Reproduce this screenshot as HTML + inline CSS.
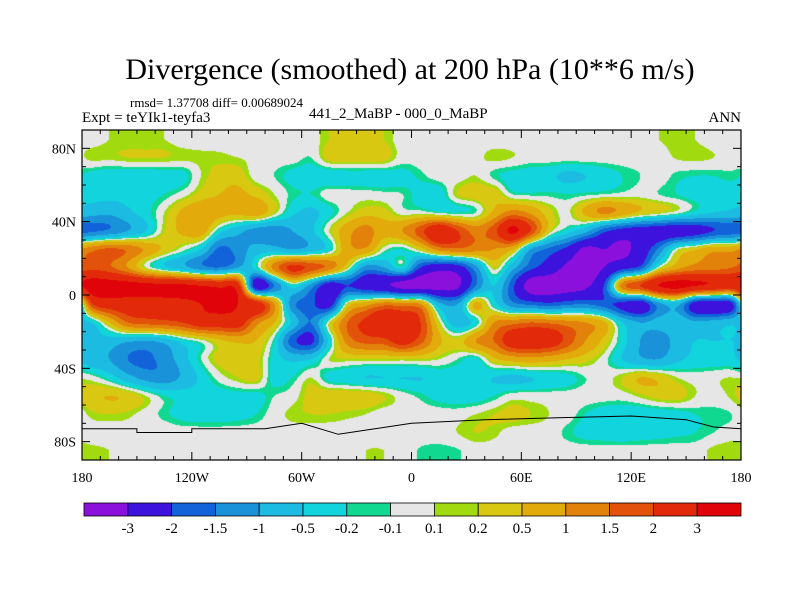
<!DOCTYPE html>
<html><head><meta charset="utf-8">
<style>
body{margin:0;background:#fff;}
#wrap{position:relative;width:800px;height:600px;overflow:hidden;font-family:"Liberation Serif",serif;color:#000;}
.t{position:absolute;white-space:nowrap;}
</style></head>
<body>
<div id="wrap">
<div class="t" style="left:0;width:820px;text-align:center;top:53px;font-size:30px;">Divergence (smoothed) at 200 hPa (10**6 m/s)</div>
<div class="t" style="left:130px;top:95px;font-size:13px;">rmsd= 1.37708 diff= 0.00689024</div>
<div class="t" style="left:82px;top:110px;font-size:15px;">Expt = teYIk1-teyfa3</div>
<div class="t" style="left:309px;top:106px;font-size:15px;">441_2_MaBP - 000_0_MaBP</div>
<div class="t" style="left:700px;top:110px;width:41px;text-align:right;font-size:15px;">ANN</div>
<canvas id="map" width="659" height="330" style="position:absolute;left:82px;top:130px;"></canvas>
<svg id="ov" width="800" height="600" style="position:absolute;left:0;top:0;"></svg>
</div>
<script>
const lons=[-175,-165,-155,-145,-135,-125,-115,-105,-95,-85,-75,-65,-55,-45,-35,-25,-15,-5,5,15,25,35,45,55,65,75,85,95,105,115,125,135,145,155,165,175];
const lats=[85,75,65,55,45,35,25,15,5,-5,-15,-25,-35,-45,-55,-65,-75,-85];
const row85=[0,0.1,0.1,0.1,0.1,0,0,0,0,0,0,0,0,0.2,0.3,0.3,0.2,0,0,0,0,0,0,0,0,0,0,0,0,0,0,0.1,0.15,0.1,0,0];
const row75=[0.15,0.15,0.2,0.2,0.2,0.15,0.15,0.15,0.1,0.05,0,0,-0.1,0.3,0.35,0.35,0.3,0,0,0,0,0.05,0.15,0.1,0,0,0,0,0,0,0,0,0.12,0.15,0.1,0];
const row65=[-0.3,-0.4,-0.4,-0.4,-0.35,-0.3,0.1,0.3,0.35,0,-0.1,-0.3,-0.4,-0.4,-0.35,-0.35,-0.35,-0.3,-0.15,0,0,0.1,-0.15,-0.3,-0.35,-0.4,-0.6,-0.5,-0.35,-0.2,-0.1,0,-0.15,-0.2,-0.2,-0.15];
const row55=[-0.3,-0.35,-0.35,-0.3,-0.2,0,0.3,0.5,0.6,0.4,0.1,-0.15,-0.2,0,0,0,-0.05,-0.1,-0.3,-0.35,0.2,0.35,0.4,-0.1,-0.15,-0.15,-0.2,-0.15,-0.1,-0.05,0,-0.1,-0.2,-0.3,-0.35,-0.35];
const row45=[-0.8,-0.9,-0.6,-0.3,0.1,0.6,0.9,0.7,0.6,0.8,0.2,-0.4,-0.6,-0.3,0.1,0.35,0.3,0,0,-0.15,-0.2,-0.1,0.6,1.2,0.9,0.3,0.05,0.6,1.1,0.8,0.4,0.2,0,-0.3,-0.5,-0.6];
const row35=[-1.6,-1.4,-1.0,-0.5,0.2,0.6,0.8,-0.3,-0.8,-1.2,-1.3,-1.0,-0.6,0.1,0.8,1.2,0.7,1.0,1.8,2.8,2.0,1.3,1.8,3.2,2.0,0.3,-0.3,-0.8,-1.8,-2.3,-2.5,-2.5,-2.6,-2.4,-2.0,-1.8];
const row25=[1.3,1.6,1.4,0.9,0.4,0,-0.5,-1.6,-1.3,-0.8,-0.8,-1.0,-0.8,-0.3,0.8,0.9,0,-0.2,0.3,1.2,1.4,1.2,1.0,0.6,-1.0,-1.6,-2.2,-3.2,-3.0,-3.2,-2.6,-1.4,0,0.4,0.8,0.8];
const row15=[1.8,1.6,1.0,0.1,-0.4,-0.8,-1.3,-1.5,-1.0,-0.3,1.2,2.2,1.8,1.3,0.2,-1.2,-1.0,-0.3,-2.0,-2.6,-2.4,-1.2,0.2,-0.8,-1.8,-2.4,-3.2,-3.4,-3.0,-2.3,-1.8,0,0.8,1.2,1.3,1.5];
const row5=[3.5,3.5,3.4,3.3,3.2,3.2,3.0,2.8,2.5,-2.5,-1.5,-0.3,-1.2,-2.5,-2.0,-2.5,-2.8,-3.3,-3.4,-3.4,-3.2,-1.5,-0.5,-1.8,-3.5,-3.6,-3.5,-3.2,-2.0,1.2,2.0,3.0,3.3,3.0,2.8,2.5];
const rowS5=[1.8,2.5,2.5,2.5,2.6,2.7,3.0,3.2,3.0,2.6,1.0,-1.3,-1.8,-2.4,0.2,0.8,1.3,1.2,1.0,-0.8,-1.0,0.6,-0.3,-1.3,-1.6,-1.8,-1.6,-1.5,-1.8,-2.2,-2.6,-1.2,-0.8,-2.4,-2.6,-2.2];
const rowS15=[-0.5,0.5,1.5,1.7,1.8,2.0,2.5,2.5,2.5,1.2,0.5,-0.6,-1.5,0.1,1.5,2.2,2.8,2.6,2.0,0.2,-0.8,-0.3,1.0,1.3,1.5,1.4,1.2,1.0,0.6,-0.5,-1.0,-0.8,-0.6,-0.9,-0.8,-0.6];
const rowS25=[-0.6,-0.7,-0.9,-1.0,-0.8,-0.3,0,0.4,0.6,0.5,-0.2,-1.8,-2.2,-0.4,1.2,1.7,1.8,2.4,1.7,0.6,0.3,1.0,1.5,2.5,2.6,2.5,1.8,1.0,0.4,-0.3,-1.0,-1.3,-0.8,-0.5,-0.5,-0.5];
const rowS35=[-0.8,-1.0,-1.5,-1.6,-1.3,-0.7,-0.1,0.3,0.3,0.3,-0.3,-0.6,-0.5,0.1,0.2,0.2,0.2,0.2,0.2,0.1,-0.1,-0.3,0.4,0.7,0.8,0.7,0.5,0.3,0,-0.5,-0.9,-1.0,-0.6,-0.4,-0.4,-0.4];
const rowS45=[0,-0.3,-0.8,-1.2,-1.3,-0.9,-0.4,0,0.2,0.3,-0.3,-0.2,0.1,-0.3,-0.4,-0.5,-0.5,-0.5,-0.5,-0.4,-0.4,-0.4,-0.5,-0.6,-0.5,-0.4,-0.3,-0.1,0,0.2,0.5,0.4,0.1,0,0.05,0.1];
const rowS55=[0.4,0.5,0.4,0.1,-0.2,-0.3,-0.35,-0.35,-0.3,-0.3,-0.1,0,0.3,0.4,0.4,0.35,0.2,0,-0.15,-0.3,-0.35,-0.35,-0.2,0,0,0,0,0,0,0,0.15,0.3,0.3,0.1,0,0.15];
const rowS65=[0.15,0.2,0.15,0,-0.15,-0.3,-0.35,-0.35,-0.3,-0.2,0,0.15,0.2,0.2,0.15,0.1,0,0,0,0,0,0.1,0.2,0.3,0.2,0.1,0,-0.2,-0.35,-0.4,-0.4,-0.35,-0.3,-0.2,-0.15,-0.1];
const rowS75=[0,0,0,-0.1,0,0,0,0,0,0,0,0,0,0,0,0,0,0,0,0,0.1,0.2,0.15,0,0,0,-0.15,-0.3,-0.35,-0.4,-0.35,-0.3,-0.25,-0.2,-0.1,0];
const rowS85=[0.15,0.1,0,0,0,0,0,0,0,0,0,0,0,0,0,0.1,0.1,0,-0.12,-0.15,-0.12,0,0,0,0,0,0,0,0,0,0,0,0,0,0.15,0.2];
const grid=[row85,row75,row65,row55,row45,row35,row25,row15,row5,rowS5,rowS15,rowS25,rowS35,rowS45,rowS55,rowS65,rowS75,rowS85];
const levels=[-3,-2,-1.5,-1,-0.5,-0.2,-0.1,0.1,0.2,0.5,1,1.5,2,3];
const levelLabels=["-3","-2","-1.5","-1","-0.5","-0.2","-0.1","0.1","0.2","0.5","1","1.5","2","3"];
const colors=["#8c10dc","#3c12dc","#1262da","#1a92da","#1cbce2","#12d4dc","#10d890","#e6e6e6","#a2da10","#d8c812","#e2aa0a","#e2820a","#e2520a","#e22a0a","#e0040a"];
const lonTicks=[-180,-120,-60,0,60,120,180];
const lonLabels=["180","120W","60W","0","60E","120E","180"];
const latTicks=[80,40,0,-40,-80];
const latLabels=["80N","40N","0","40S","80S"];

const L=82,T=130,W=659,H=330;
function xOf(lon){return L+(lon+180)/360*W;}
function yOf(lat){return T+(90-lat)/180*H;}
function colorIdx(v){let i=0;while(i<levels.length&&v>=levels[i])i++;return i;}
function cr(p0,p1,p2,p3,t){return 0.5*((2*p1)+(-p0+p2)*t+(2*p0-5*p1+4*p2-p3)*t*t+(-p0+3*p1-3*p2+p3)*t*t*t);}
function g(j,i){const n=lons.length;j=Math.max(0,Math.min(lats.length-1,j));i=((i%n)+n)%n;return grid[j][i];}
function sample(lon,lat){
  const fi=(lon-lons[0])/10, fj=Math.max(0,Math.min(lats.length-1,(lats[0]-lat)/10));
  const i0=Math.floor(fi), ti=fi-i0, j0=Math.floor(fj), tj=fj-j0;
  const r=[];
  for(let dj=-1;dj<=2;dj++){r.push(cr(g(j0+dj,i0-1),g(j0+dj,i0),g(j0+dj,i0+1),g(j0+dj,i0+2),ti));}
  return cr(r[0],r[1],r[2],r[3],tj);
}
const cv=document.getElementById('map');const ctx=cv.getContext('2d');
const img=ctx.createImageData(W,H);
const rgb=colors.map(c=>[parseInt(c.substr(1,2),16),parseInt(c.substr(3,2),16),parseInt(c.substr(5,2),16)]);
for(let py=0;py<H;py++){for(let px=0;px<W;px++){
  const lon=-180+(px+0.5)/W*360, lat=90-(py+0.5)/H*180;
  const c=rgb[colorIdx(sample(lon,lat))];const k=(py*W+px)*4;
  img.data[k]=c[0];img.data[k+1]=c[1];img.data[k+2]=c[2];img.data[k+3]=255;}}
ctx.putImageData(img,0,0);

const NS='http://www.w3.org/2000/svg';const ov=document.getElementById('ov');
function mk(tag,attrs){const e=document.createElementNS(NS,tag);for(const k in attrs)e.setAttribute(k,attrs[k]);ov.appendChild(e);return e;}
const ant=[[-180,-73],[-150,-73],[-150,-75],[-120,-75],[-120,-73],[-80,-73],[-60,-70],[-40,-76],[-20,-73],[0,-70],[40,-68],[80,-67],[120,-66],[150,-68],[165,-72],[180,-73]];
let d='';ant.forEach((p,i)=>{d+=(i?'L':'M')+xOf(p[0]).toFixed(1)+' '+yOf(p[1]).toFixed(1);});
const coast=mk('path',{d:d,fill:'none',stroke:'#000','stroke-width':1});


const frame=mk('rect',{x:L,y:T,width:W,height:H,fill:'none',stroke:'#000','stroke-width':1.2});


for(let lon=-180;lon<=180;lon+=10){const x=xOf(lon);const len=(lon%60===0)?8:4;
  mk('line',{x1:x,y1:T+H,x2:x,y2:T+H-len,stroke:'#000'});mk('line',{x1:x,y1:T,x2:x,y2:T+len,stroke:'#000'});}
for(let lat=-90;lat<=90;lat+=10){const y=yOf(lat);const len=(lat%40===0)?8:4;
  mk('line',{x1:L,y1:y,x2:L+len,y2:y,stroke:'#000'});mk('line',{x1:L+W,y1:y,x2:L+W-len,y2:y,stroke:'#000'});}
lonTicks.forEach((lon,i)=>{const t=mk('text',{x:xOf(lon),y:482,'text-anchor':'middle','font-size':14,'font-family':'Liberation Serif, serif'});t.textContent=lonLabels[i];
  
  });
latTicks.forEach((lat,i)=>{const t=mk('text',{x:76,y:yOf(lat)+5,'text-anchor':'end','font-size':14,'font-family':'Liberation Serif, serif'});t.textContent=latLabels[i];
  
  });
const cbL=84,cbW=657,cbT=503,cbH=13,bw=cbW/colors.length;
colors.forEach((c,i)=>{const r=mk('rect',{x:cbL+i*bw,y:cbT,width:bw,height:cbH,fill:c,stroke:'#000','stroke-width':0.8});
  
  });
levelLabels.forEach((s,i)=>{const t=mk('text',{x:cbL+(i+1)*bw,y:533,'text-anchor':'middle','font-size':15,'font-family':'Liberation Serif, serif'});t.textContent=s;
  
  });
</script>
</body></html>
